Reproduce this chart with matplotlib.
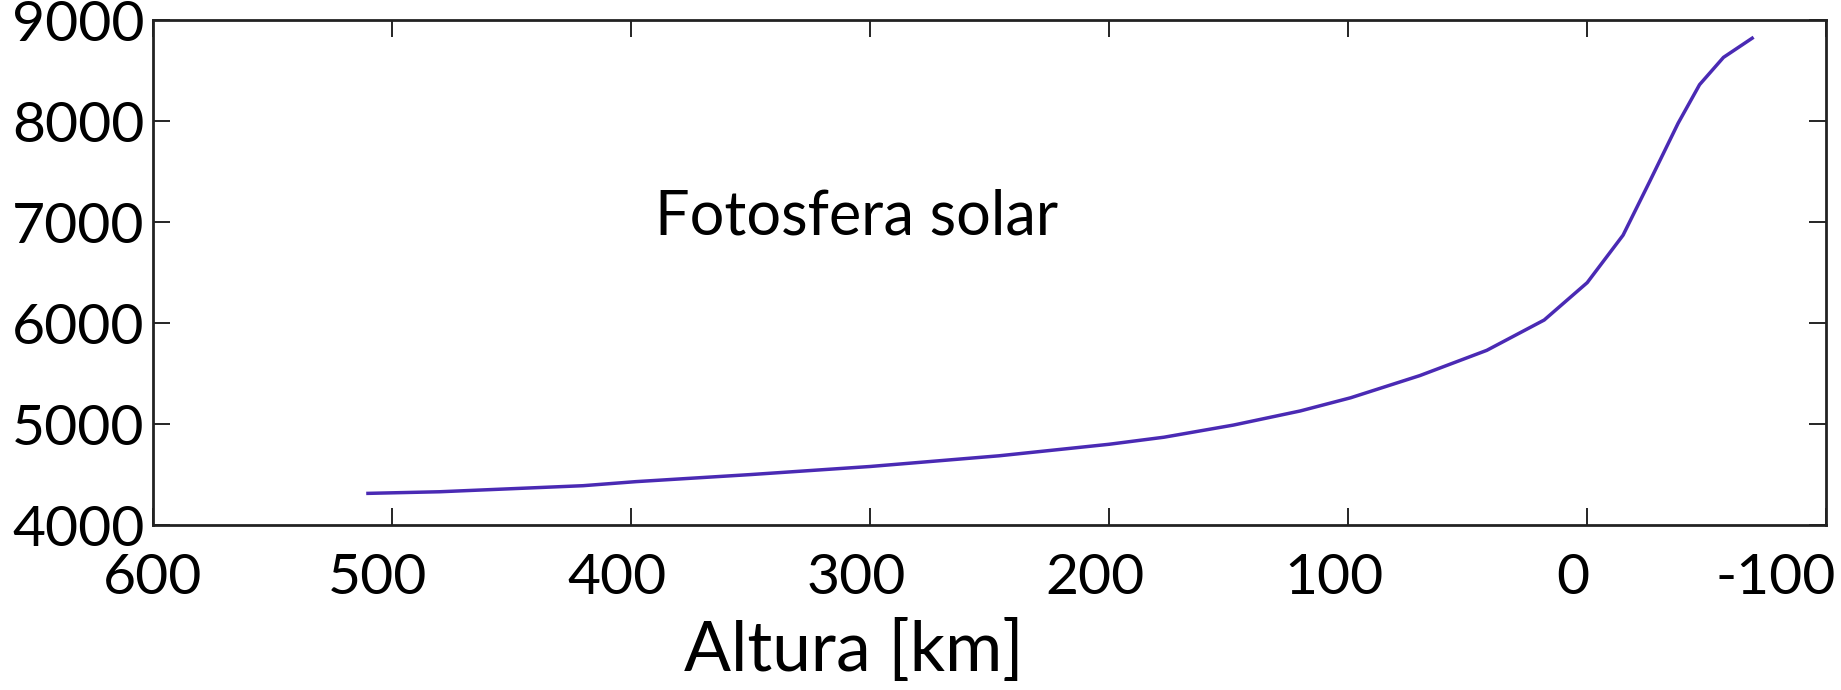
import matplotlib
matplotlib.use("Agg")
import matplotlib.pyplot as plt
import matplotlib.transforms as mtransforms

plt.rcParams['font.family'] = ['Lato', 'DejaVu Sans']
plt.rcParams['axes.unicode_minus'] = False

# altura [km] vs temperatura [K]
altura = [510, 480, 450, 420, 398, 350, 300, 246, 200, 177, 148, 120, 99,
          70, 42, 18, 0, -15, -26, -38, -47, -57, -69]
temperatura = [4314, 4330, 4360, 4390, 4430, 4500, 4580, 4686, 4800, 4870,
               4990, 5130, 5260, 5480, 5730, 6030, 6400, 6870, 7395, 7977,
               8360, 8630, 8820]
xticks = [600, 500, 400, 300, 200, 100, 0, -100]
yticks = [4000, 5000, 6000, 7000, 8000, 9000]

fig = plt.figure(figsize=(18.41, 6.9), dpi=100)
ax = fig.add_axes([0.083, 0.239, 0.909, 0.732])

ax.plot(altura, temperatura, color='#4a2ab4', lw=2.5)
ax.text(390, 7050, "Fotosfera solar", fontsize=44, ha='left', va='center')

ax.set_xlim(600, -100)
ax.set_ylim(4000, 9000)
ax.set_xticks(xticks)
ax.set_yticks(yticks)
ax.tick_params(direction='in', length=12, width=1.2, top=True, right=True,
               labelsize=41)
ax.tick_params(axis='x', pad=20)
ax.tick_params(axis='y', pad=6)
for s in ax.spines.values():
    s.set_linewidth(2.0)
    s.set_color('#222222')

# nudge the x labels a bit left like the original, last one flush right
labels = ax.get_xticklabels()
shift = mtransforms.ScaledTranslation(-14 / 100, 0, fig.dpi_scale_trans)
for lab in labels[1:-1]:
    lab.set_transform(lab.get_transform() + shift)
labels[-1].set_ha('right')
labels[-1].set_transform(labels[-1].get_transform()
                         + mtransforms.ScaledTranslation(10 / 100, 0, fig.dpi_scale_trans))

fig.text(0.464, 0.056, "Altura [km]", fontsize=50, ha='center', va='center')

fig.savefig("out.png", dpi=100)
